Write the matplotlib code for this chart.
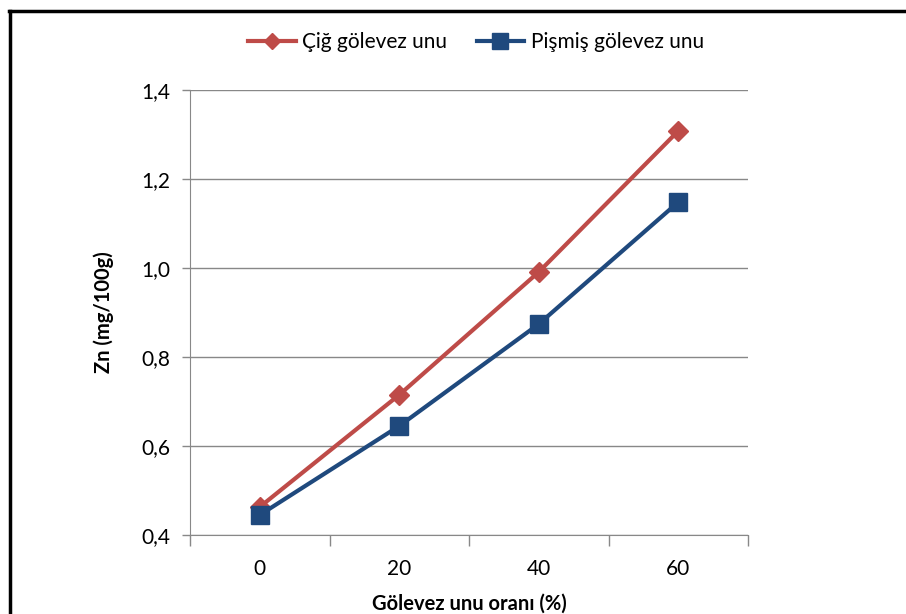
import matplotlib
matplotlib.use("Agg")
import matplotlib.pyplot as plt
from matplotlib.lines import Line2D

# data
categories = ["0", "20", "40", "60"]
cig = [0.463, 0.715, 0.991, 1.308]
pismis = [0.445, 0.645, 0.874, 1.148]
yticks = [0.4, 0.6, 0.8, 1.0, 1.2, 1.4]
ytick_labels = ["0,4", "0,6", "0,8", "1,0", "1,2", "1,4"]

plt.rcParams["font.family"] = ["Lato", "DejaVu Sans"]

fig = plt.figure(figsize=(9.06, 6.14), dpi=100)
ax = fig.add_axes([190 / 906, 1 - 535 / 614, 558 / 906, 445 / 614])

red = "#BE4B48"
blue = "#1F497D"
x = list(range(len(categories)))
ax.plot(x, cig, color=red, lw=3, marker="D", ms=10, label="Çiğ gölevez unu", zorder=3)
ax.plot(x, pismis, color=blue, lw=3, marker="s", ms=13, label="Pişmiş gölevez unu", zorder=4)

ax.set_xlim(-0.5, 3.5)
ax.set_ylim(0.4, 1.4)
ax.set_yticks(yticks)
ax.set_yticklabels(ytick_labels, fontsize=15)
ax.set_xticks(x)
ax.set_xticklabels(categories, fontsize=15)
ax.set_xticks([-0.5, 0.5, 1.5, 2.5, 3.5], minor=True)
ax.tick_params(axis="x", which="major", length=0, pad=17)
ax.tick_params(axis="x", which="minor", length=8, color="#888888", width=1)
ax.tick_params(axis="y", length=6, color="#888888", width=1, pad=8)

ax.grid(axis="y", color="#888888", lw=1)
for s in ["top", "right"]:
    ax.spines[s].set_visible(False)
ax.spines["left"].set_color("#888888")
ax.spines["bottom"].set_color("#888888")

ax.set_xlabel("Gölevez unu oranı (%)", fontsize=14.5, fontweight="bold", labelpad=11)
ax.set_ylabel("Zn (mg/100g)", fontsize=14.5, fontweight="bold", labelpad=20)

fig.legend(*ax.get_legend_handles_labels(), loc="center",
           bbox_to_anchor=(476 / 906, 1 - 42 / 614), ncol=2, frameon=False,
           fontsize=15, handlelength=2.3, columnspacing=1.4, handletextpad=0.3,
           borderaxespad=0, markerscale=0.85)

# chart frame (only top and left edges visible)
fig.add_artist(Line2D([9 / 906, 1], [1 - 11 / 614, 1 - 11 / 614], color="black", lw=2.5,
                      transform=fig.transFigure))
fig.add_artist(Line2D([10 / 906, 10 / 906], [0, 1 - 11 / 614], color="black", lw=2.5,
                      transform=fig.transFigure))

fig.savefig("out.png", dpi=100)
